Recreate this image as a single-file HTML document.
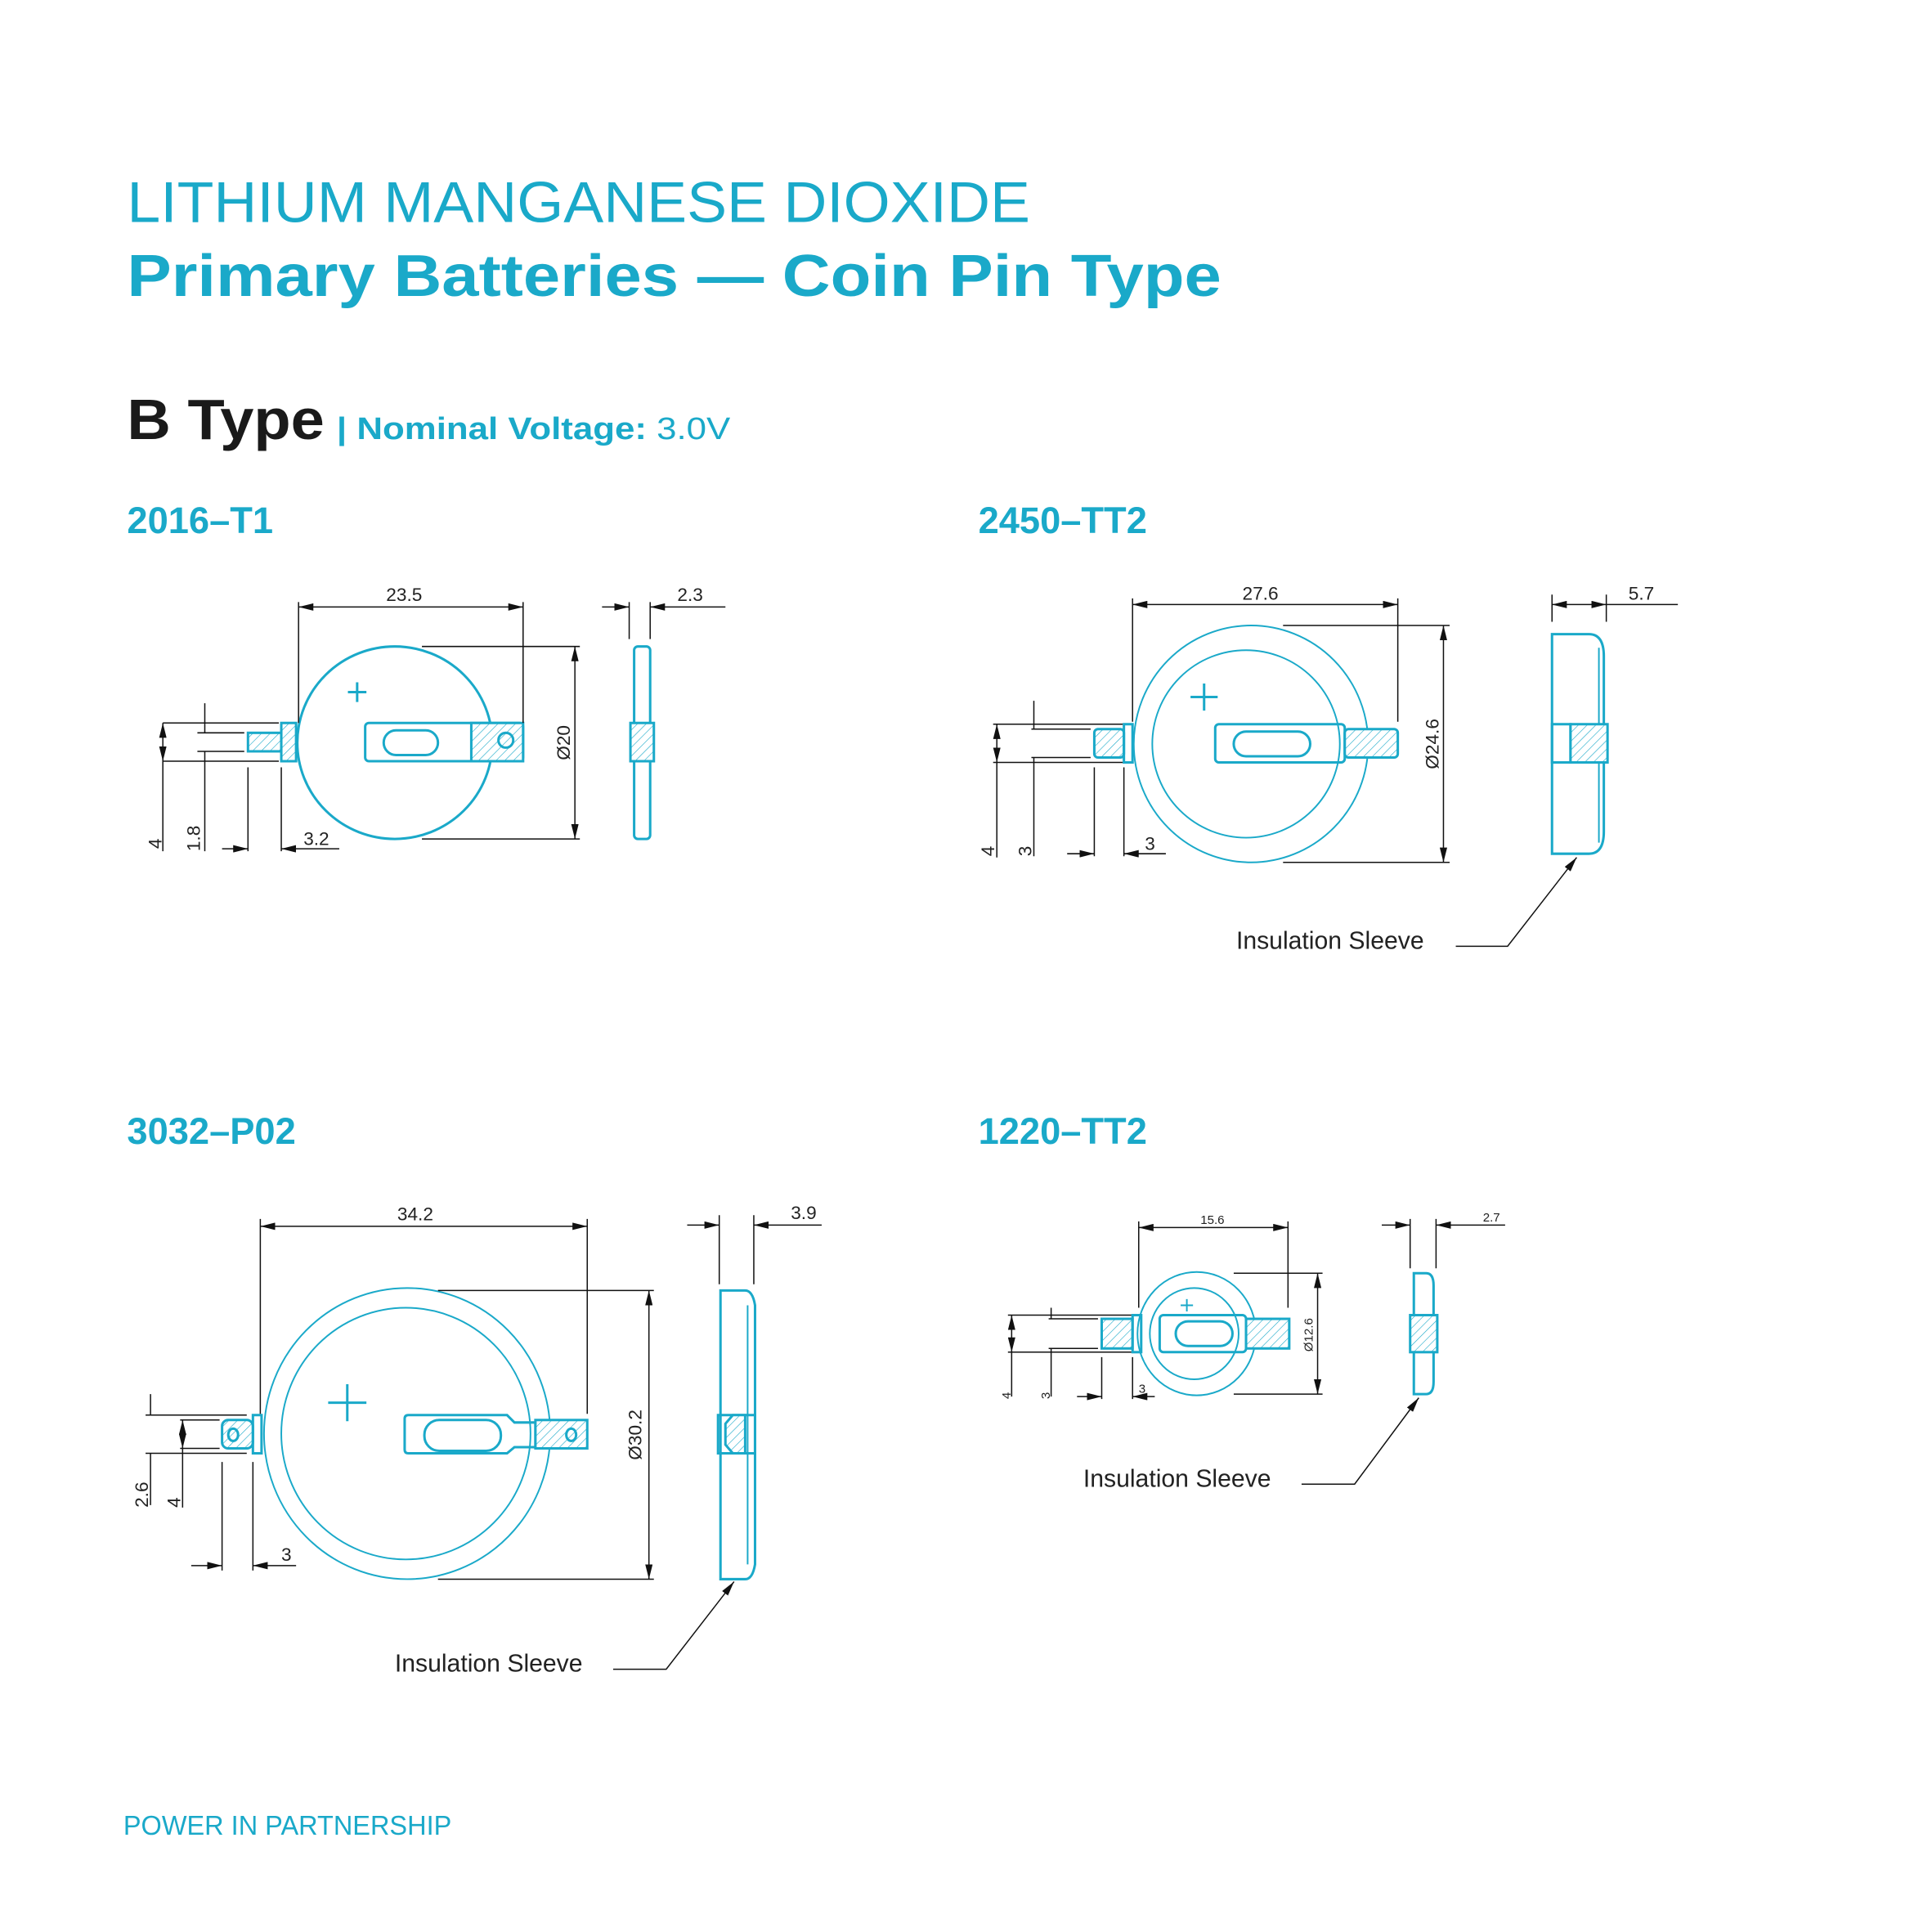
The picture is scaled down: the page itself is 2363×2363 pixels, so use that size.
<!DOCTYPE html>
<html><head><meta charset="utf-8"><style>
html,body{margin:0;padding:0;background:#fff}
svg{display:block}
.c{fill:none;stroke:#1aa9c9;stroke-width:2}
.c1{fill:none;stroke:#1aa9c9;stroke-width:1.3}
.h{fill:url(#hatch);stroke:#1aa9c9;stroke-width:2}
.d{fill:none;stroke:#111;stroke-width:1}
.da{fill:none;stroke:#111;stroke-width:1;marker-start:url(#as);marker-end:url(#ae)}
.t{font-family:"Liberation Sans",sans-serif;fill:#222}
</style></head><body>
<svg width="2363" height="2363" viewBox="0 0 1566 1566" xmlns="http://www.w3.org/2000/svg">
<defs>
<pattern id="hatch" width="5" height="5" patternUnits="userSpaceOnUse" patternTransform="rotate(45)">
<rect width="5" height="5" fill="#fff"/><line x1="0" y1="0" x2="0" y2="5" stroke="#1aa9c9" stroke-width="0.8"/></pattern>
<marker id="ae" markerWidth="12" markerHeight="6" refX="12" refY="3" orient="auto" markerUnits="userSpaceOnUse"><path d="M0,0 L12,3 L0,6z" fill="#111"/></marker>
<marker id="as" markerWidth="12" markerHeight="6" refX="0" refY="3" orient="auto" markerUnits="userSpaceOnUse"><path d="M12,0 L0,3 L12,6z" fill="#111"/></marker>
</defs>
<g font-family="Liberation Sans, sans-serif" fill="#1aa9c9">
<text x="103" y="180" font-size="47" textLength="732" lengthAdjust="spacingAndGlyphs">LITHIUM MANGANESE DIOXIDE</text>
<text x="103" y="240" font-size="48" font-weight="bold" textLength="887" lengthAdjust="spacingAndGlyphs">Primary  Batteries — Coin Pin Type</text>
<text x="103" y="356" font-size="46" font-weight="bold" fill="#1a1a1a" textLength="160" lengthAdjust="spacingAndGlyphs">B  Type</text>
<text x="273" y="356" font-size="25" textLength="319" lengthAdjust="spacingAndGlyphs"><tspan font-weight="bold">| Nominal  Voltage:</tspan> 3.0V</text>
<text x="103" y="432" font-size="30" font-weight="bold">2016–T1</text>
<text x="793" y="432" font-size="30" font-weight="bold">2450–TT2</text>
<text x="103" y="927" font-size="30" font-weight="bold">3032–P02</text>
<text x="793" y="927" font-size="30" font-weight="bold">1220–TT2</text>
<text x="100" y="1487" font-size="22" textLength="266" lengthAdjust="spacingAndGlyphs">POWER IN PARTNERSHIP</text>
</g>

<!-- 2016-T1 -->
<ellipse class="c" cx="320" cy="602" rx="79" ry="78"/>
<path class="c" d="M282,561h15M289.5,553v16"/>
<rect x="296" y="586" width="128" height="31" rx="3" fill="#fff" class="c"/>
<rect x="382" y="586" width="42" height="31" class="h"/>
<circle cx="410" cy="600" r="6" class="c" fill="#fff"/>
<rect x="311" y="592" width="44" height="20" rx="10" class="c"/>
<rect x="201" y="594" width="27" height="15" class="h"/>
<rect x="228" y="586" width="12" height="31" class="h"/>
<rect x="514" y="524" width="13" height="156" rx="3" class="c"/>
<rect x="511" y="586" width="19" height="31" class="h"/>
<path class="d" d="M242,488v98M424,488v98M342,524h128M342,680h128M132,586h94M132,617h94M160,594h38M160,609h38M201,622v68M228,622v68M510,488v30M527,488v30"/>
<line class="da" x1="242" y1="492" x2="424" y2="492"/>
<line class="da" x1="466" y1="524" x2="466" y2="680"/>
<line class="da" x1="132" y1="586" x2="132" y2="617"/>
<path class="d" d="M166,570v24M166,609v81M132,617v73"/>
<line class="d" x1="180" y1="688" x2="201" y2="688" style="marker-end:url(#ae)"/>
<line class="d" x1="228" y1="688" x2="275" y2="688" style="marker-start:url(#as)"/>
<line class="d" x1="488" y1="492" x2="510" y2="492" style="marker-end:url(#ae)"/>
<line class="d" x1="527" y1="492" x2="588" y2="492" style="marker-start:url(#as)"/>
<g class="t" font-size="15">
<text x="313" y="487">23.5</text><text x="549" y="487">2.3</text><text x="246" y="685">3.2</text>
<text transform="translate(462,602) rotate(-90)" text-anchor="middle">Ø20</text>
<text transform="translate(131,688) rotate(-90)">4</text><text transform="translate(162,690) rotate(-90)">1.8</text>
</g>

<!-- 2450-TT2 -->
<ellipse class="c1" cx="1014" cy="603" rx="95" ry="96"/>
<ellipse class="c1" cx="1010" cy="603" rx="76" ry="76"/>
<path class="c" d="M965,565h22M976,554v22"/>
<rect x="985" y="587" width="105" height="31" rx="3" fill="#fff" class="c"/>
<rect x="1090" y="591" width="43" height="23" rx="3" class="h"/>
<rect x="1000" y="593" width="62" height="20" rx="10" class="c"/>
<rect x="887" y="591" width="24" height="23" rx="3" class="h"/>
<rect x="911" y="587" width="7" height="31" class="c"/>
<path class="c" d="M1258,514h30q12,0 12,18v142q0,18-12,18h-30z"/>
<path class="c1" d="M1296,525v158"/>
<rect x="1258" y="587" width="15" height="31" class="c" fill="#fff"/>
<rect x="1273" y="587" width="30" height="31" class="h"/>
<path class="d" d="M918,485v100M1133,485v100M1040,507h135M1040,699h135M805,587h105M805,618h105M836,591h48M836,614h48M887,622v72M911,622v72M1258,482v22M1302,482v22"/>
<line class="da" x1="918" y1="490" x2="1133" y2="490"/>
<line class="da" x1="1170" y1="507" x2="1170" y2="699"/>
<line class="da" x1="808" y1="587" x2="808" y2="618"/>
<path class="d" d="M808,618v77M838,568v23M838,614v80"/>
<line class="d" x1="865" y1="692" x2="887" y2="692" style="marker-end:url(#ae)"/>
<line class="d" x1="911" y1="692" x2="945" y2="692" style="marker-start:url(#as)"/>
<line class="d" x1="1258" y1="490" x2="1302" y2="490" style="marker-start:url(#as);marker-end:url(#ae)"/>
<line class="d" x1="1302" y1="490" x2="1360" y2="490"/>
<path class="d" d="M1180,767h42L1278,695" style="marker-end:url(#ae)"/>
<g class="t" font-size="15">
<text x="1007" y="486">27.6</text><text x="1320" y="486">5.7</text><text x="928" y="689">3</text>
<text transform="translate(1166,603) rotate(-90)" text-anchor="middle">Ø24.6</text>
<text transform="translate(806,694) rotate(-90)">4</text><text transform="translate(836,694) rotate(-90)">3</text>
<text x="1002" y="769" font-size="20">Insulation Sleeve</text>
</g>

<!-- 3032-P02 -->
<ellipse class="c1" cx="330" cy="1162" rx="116" ry="118"/>
<ellipse class="c1" cx="329" cy="1162" rx="101" ry="102"/>
<path class="c" stroke-width="4" d="M266,1137h31M281.5,1122v30"/>
<path class="c" d="M331,1147h80l6,6h17v20h-17l-6,5h-80q-3,0-3-3v-25q0-3,3-3z" fill="#fff"/>
<rect x="434" y="1151" width="42" height="23" class="h"/>
<ellipse cx="463" cy="1163" rx="4" ry="5" class="c" fill="#fff"/>
<rect x="344" y="1151" width="62" height="25" rx="12" class="c"/>
<rect x="180" y="1151" width="25" height="23" rx="5" class="h"/>
<ellipse cx="189" cy="1163" rx="4" ry="5" class="c" fill="#fff"/>
<rect x="205" y="1147" width="7" height="31" class="c"/>
<path class="c" d="M584,1046h20q6,0 8,12v210q-2,12-8,12h-20z"/>
<path class="c1" d="M606,1058v210"/>
<rect x="582" y="1147" width="30" height="31" class="c" fill="#fff"/>
<path class="h" d="M588,1154l6-7h10v31h-10l-6-7z"/>
<path class="d" d="M211,988v158M476,988v158M355,1046h175M355,1280h175M118,1147h82M118,1178h82M146,1151h32M146,1174h32M180,1185v88M205,1185v88M583,985v56M611,985v56"/>
<line class="da" x1="211" y1="994" x2="476" y2="994"/>
<line class="da" x1="526" y1="1046" x2="526" y2="1280"/>
<line class="da" x1="148" y1="1151" x2="148" y2="1174"/>
<path class="d" d="M122,1130v17M122,1178v42M148,1174v48"/>
<line class="d" x1="155" y1="1269" x2="180" y2="1269" style="marker-end:url(#ae)"/>
<line class="d" x1="205" y1="1269" x2="240" y2="1269" style="marker-start:url(#as)"/>
<line class="d" x1="557" y1="993" x2="583" y2="993" style="marker-end:url(#ae)"/>
<line class="d" x1="611" y1="993" x2="666" y2="993" style="marker-start:url(#as)"/>
<path class="d" d="M497,1353h43L595,1282" style="marker-end:url(#ae)"/>
<g class="t" font-size="15">
<text x="322" y="989">34.2</text><text x="641" y="988">3.9</text><text x="228" y="1265">3</text>
<text transform="translate(520,1163) rotate(-90)" text-anchor="middle">Ø30.2</text>
<text transform="translate(120,1222) rotate(-90)">2.6</text><text transform="translate(146,1222) rotate(-90)">4</text>
<text x="320" y="1355" font-size="20">Insulation Sleeve</text>
</g>

<!-- 1220-TT2 -->
<ellipse class="c1" cx="970" cy="1081" rx="48" ry="50"/>
<ellipse class="c1" cx="968" cy="1081" rx="36" ry="37"/>
<path class="c1" d="M957,1058h10M962,1053v10"/>
<rect x="940" y="1066" width="70" height="30" rx="3" fill="#fff" class="c"/>
<rect x="1010" y="1069" width="35" height="24" class="h"/>
<rect x="953" y="1071" width="46" height="20" rx="10" class="c"/>
<rect x="893" y="1069" width="25" height="24" class="h"/>
<rect x="918" y="1066" width="7" height="30" class="c"/>
<path class="c" d="M1146,1032h10q6,0 6,10v78q0,10-6,10h-10z"/>
<rect x="1143" y="1066" width="22" height="30" class="h"/>
<path class="d" d="M923,990v70M1044,990v70M1000,1032h72M1000,1130h72M817,1066h100M817,1096h100M850,1069h40M850,1093h40M893,1100v34M918,1100v34M1143,988v40M1164,988v40"/>
<line class="da" x1="923" y1="995" x2="1044" y2="995"/>
<line class="da" x1="1068" y1="1032" x2="1068" y2="1130"/>
<line class="da" x1="820" y1="1066" x2="820" y2="1096"/>
<path class="d" d="M820,1096v36M852,1060v9M852,1093v39"/>
<line class="d" x1="873" y1="1132" x2="893" y2="1132" style="marker-end:url(#ae)"/>
<line class="d" x1="918" y1="1132" x2="936" y2="1132" style="marker-start:url(#as)"/>
<line class="d" x1="1120" y1="993" x2="1143" y2="993" style="marker-end:url(#ae)"/>
<line class="d" x1="1164" y1="993" x2="1220" y2="993" style="marker-start:url(#as)"/>
<path class="d" d="M1055,1203h43L1150,1133" style="marker-end:url(#ae)"/>
<g class="t" font-size="10">
<text x="973" y="992">15.6</text><text x="1202" y="990">2.7</text><text x="923" y="1129">3</text>
<text transform="translate(1064,1082) rotate(-90)" text-anchor="middle">Ø12.6</text>
<text transform="translate(819,1134) rotate(-90)">4</text><text transform="translate(851,1134) rotate(-90)">3</text>
<text x="878" y="1205" font-size="20">Insulation Sleeve</text>
</g>
</svg>
</body></html>
